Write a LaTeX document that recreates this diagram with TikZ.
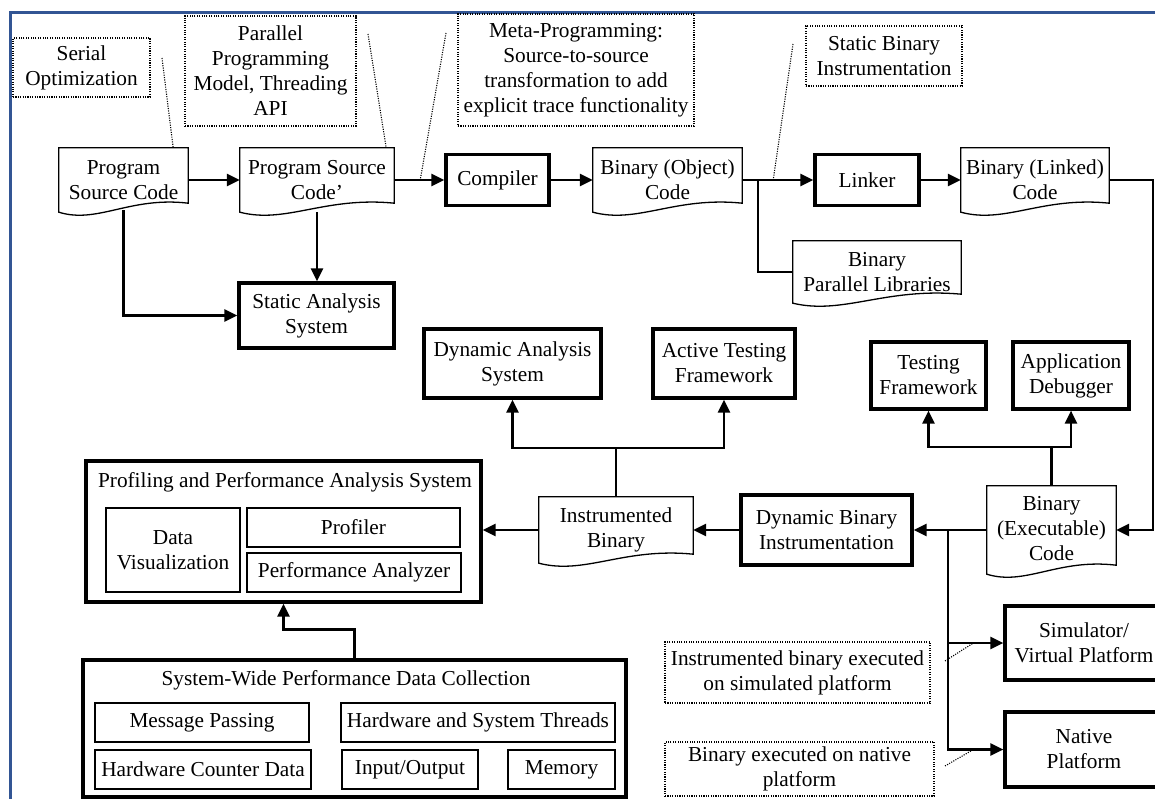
\documentclass[tikz,border=0pt]{standalone}
\usepackage{fontspec}
\setmainfont{Liberation Serif}
\usetikzlibrary{arrows.meta,calc}
\definecolor{frameblue}{RGB}{50,85,148}

% text block shifted upward inside a document shape
\newcommand\liftlines[2]{\raisebox{#1}{\begin{tabular}{@{}c@{}}#2\end{tabular}}}

% outline of a "document" symbol around a (borderless) node: wavy bottom edge
\newcommand\docpath[1]{%
  \draw[docline] (#1.south west) -- (#1.north west) -- (#1.north east)
    -- ($(#1.south east)+(0,-9)$)
    .. controls ($(#1.south west)!0.55!(#1.south east)+(0,-16)$)
       and ($(#1.south west)!0.3!(#1.south east)+(0,12)$) .. (#1.south west) -- cycle;}

\tikzset{
  every node/.style={font=\fontsize{21.3}{25}\selectfont, align=center, inner sep=0pt},
  sz/.style 2 args={minimum width=#1pt, minimum height=#2pt},
  heavybox/.style={draw, line width=3.2pt},
  lightbox/.style={draw, line width=1.3pt},
  notebox/.style={draw, line width=1.1pt, dash pattern=on 1.1pt off 1.3pt},
  docnode/.style={draw=none},
  docline/.style={line width=1.3pt, line join=miter},
  flow/.style={line width=2.5pt, -{Triangle[length=13pt,width=12pt]}},
  joinline/.style={line width=2.5pt},
  leader/.style={line width=1.1pt, dash pattern=on 1.1pt off 1.3pt},
}

\begin{document}
\begin{tikzpicture}[x=1pt,y=-1pt]
\useasboundingbox (0,0) rectangle (1155,799);

% page frame
\draw[frameblue, line width=2.6pt] (10.5,12.5) rectangle (1300,1000);

% ---- top row: source to linked binary
\node[docnode, sz={129}{64}] (psc) at (123.5,180) {Program\\Source Code};
\node[docnode, sz={154}{64}] (pscp) at (317,180) {Program Source\\Code’};
\node[heavybox, sz={103}{51}] (cmp) at (497.5,180) {Compiler};
\node[docnode, sz={149}{64}] (boc) at (667.5,180) {Binary (Object)\\Code};
\node[heavybox, sz={104}{51}] (lnk) at (867,180) {Linker};
\node[docnode, sz={148}{64}] (blc) at (1035,180) {Binary (Linked)\\Code};
\node[docnode, sz={168}{62}] (bpl) at (877,272) {Binary\\Parallel Libraries};
\docpath{psc}\docpath{pscp}\docpath{boc}\docpath{blc}\docpath{bpl}

% ---- annotations
\node[notebox, sz={137}{59}] (so) at (81.5,67.5) {Serial\\Optimization};
\node[notebox, sz={171}{110}] (ppm) at (270.5,71) {Parallel\\Programming\\Model, Threading\\API};
\node[notebox, sz={236}{112}] (meta) at (576,70) {Meta-Programming:\\Source-to-source\\transformation to add\\explicit trace functionality};
\node[notebox, sz={156}{60}] (sbi) at (884,56) {Static Binary\\Instrumentation};
\node[notebox, sz={265}{61}] (ibs) at (797.5,672.5) {Instrumented binary executed\\on simulated platform};
\node[notebox, sz={269}{54}] (ben) at (799.5,769) {Binary executed on native\\platform};

% ---- analysis and testing tools
\node[heavybox, sz={155}{65}] (sas) at (316.5,315.5) {Static Analysis\\System};
\node[heavybox, sz={177}{69}] (das) at (512.5,363.5) {Dynamic Analysis\\System};
\node[heavybox, sz={142}{69}] (atf) at (724,363.5) {Active Testing\\Framework};
\node[heavybox, sz={115}{67}] (tf) at (928.5,375.5) {Testing\\Framework};
\node[heavybox, sz={116}{67}] (ad) at (1071,375.5) {Application\\Debugger};

% ---- executable and instrumentation
\node[docnode, sz={129}{88}] (bec) at (1051.5,530) {\liftlines{6pt}{Binary\\(Executable)\\Code}};
\node[heavybox, sz={171}{70}] (dbi) at (826.5,530) {Dynamic Binary\\Instrumentation};
\node[docnode, sz={154}{66}] (ib) at (616,530) {\liftlines{3pt}{Instrumented\\Binary}};
\docpath{bec}\docpath{ib}
\node[heavybox, sz={158}{74}] (sim) at (1084,643) {Simulator/\\Virtual Platform};
\node[heavybox, sz={158}{75}] (nat) at (1084,749.5) {Native\\Platform};

% ---- profiling system
\node[heavybox, sz={395}{141}] (prof) at (283.5,531.5) {};
\node (proft) at (285,482) {Profiling and Performance Analysis System};
\node[lightbox, sz={134}{84}] (dv) at (173,550) {Data\\Visualization};
\node[lightbox, sz={213}{39}] (pf) at (353.5,527.5) {Profiler};
\node[lightbox, sz={214}{39}] (pa) at (354,572.5) {Performance Analyzer};

% ---- data collection
\node[heavybox, sz={543}{137}] (swp) at (354.5,728.5) {};
\node (swpt) at (346,680) {System-Wide Performance Data Collection};
\node[lightbox, sz={214}{39}] (mp) at (202,722.5) {Message Passing};
\node[lightbox, sz={274}{39}] (hst) at (478,722.5) {Hardware and System Threads};
\node[lightbox, sz={216}{39}] (hcd) at (203,769.5) {Hardware Counter Data};
\node[lightbox, sz={136}{39}] (io) at (410,769.5) {Input/Output};
\node[lightbox, sz={107}{39}] (mem) at (561.5,769.5) {Memory};

% ---- flow connectors
\draw[flow] (psc.east) -- (pscp.west);
\draw[flow] (pscp.east) -- (cmp.west);
\draw[flow] (cmp.east) -- (boc.west);
\draw[flow] (boc.east) -- (lnk.west);
\draw[flow] (lnk.east) -- (blc.west);
\draw[joinline] ($(boc.east)+(16,0)$) |- (bpl.west);
\draw[flow] (blc.east) -- ++(44,0) |- (bec.east);
\draw[flow] ($(psc.south)+(0,-2)$) |- (sas.west);
\draw[flow] (pscp.south) -- (pscp.south |- sas.north);
\draw[flow] (bec.north) -- ++(0,-39) -| (tf.south);
\draw[flow] (bec.north) -- ++(0,-39) -| (ad.south);
\draw[flow] (bec.west) -- (dbi.east);
\draw[flow] ($(bec.west)+(-39,0)$) |- (sim.west);
\draw[flow] ($(bec.west)+(-39,0)$) |- (nat.west);
\draw[flow] (dbi.west) -- (ib.east);
\draw[flow] (ib.west) -- (ib.west -| prof.east);
\draw[flow] (ib.north) -- ++(0,-49) -| (das.south);
\draw[flow] (ib.north) -- ++(0,-49) -| (atf.south);
\draw[flow] (swp.north) -- ++(0,-29) -| (prof.south);

% ---- annotation leaders
\coordinate (so-tip) at (162,58);
\coordinate (ppm-tip) at (368,34);
\coordinate (meta-tip) at (446,33);
\coordinate (sbi-tip) at (793,44);
\coordinate (ibs-tip) at (945,661);
\coordinate (ben-tip) at (945,766);
\draw[leader] (so-tip) -- ($(psc.north east)+(-15,0)$);
\draw[leader] (ppm-tip) -- ($(pscp.north east)+(-8,0)$);
\draw[leader] (meta-tip) -- ($(pscp.east)+(26,0)$);
\draw[leader] (sbi-tip) -- ($(boc.east)+(31,0)$);
\draw[leader] (ibs-tip) -- ($(sim.west)+(-30,0)$);
\draw[leader] (ben-tip) -- ($(nat.west)+(-30,0)$);
\end{tikzpicture}
\end{document}
